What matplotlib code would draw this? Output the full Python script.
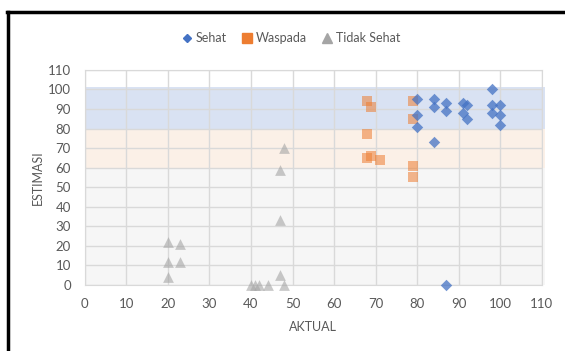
import matplotlib.pyplot as plt
from matplotlib.lines import Line2D

plt.rcParams['font.family'] = ['Lato', 'DejaVu Sans']

# Sehat (blue diamonds)
sehat_x = [80, 80, 80, 84, 84, 84, 87, 87, 91, 92, 91, 92, 98, 98, 98, 100, 100, 100, 87]
sehat_y = [95, 87, 81, 95, 91, 73, 93, 89, 93, 92, 88, 85, 100, 92, 88, 92, 87, 82, 0]

# Waspada (orange squares)
waspada_x = [68, 69, 68, 68, 69, 71, 79, 79, 79, 79]
waspada_y = [94, 91, 77, 65, 66, 64, 94, 85, 61, 55]

# Tidak Sehat (gray triangles)
tidak_x = [20, 23, 20, 23, 20, 48, 47, 47, 47, 40, 41, 42, 44, 48]
tidak_y = [22, 21, 12, 12, 4, 70, 59, 33, 5, 0, 0, 0, 0, 0]

# background zones
zones = [(0, 60, '#F6F6F6'), (60, 80, '#FBF0E7'), (80, 101, '#D9E2F3')]

c_blue = '#4472C4'
c_orange = '#ED7D31'
c_gray = '#A5A5A5'
txt = '#595959'

fig = plt.figure(figsize=(5.65, 3.51), dpi=100)
ax = fig.add_axes([0.150, 0.188, 0.809, 0.613])

for lo, hi, col in zones:
    p = ax.axhspan(lo, hi, xmin=0, xmax=1.008, color=col, zorder=0.2, lw=0)
    p.set_clip_on(False)

ax.scatter(tidak_x, tidak_y, marker='^', s=60, color=c_gray, alpha=0.6, lw=0, zorder=3,
           clip_on=False)
ax.scatter(waspada_x, waspada_y, marker='s', s=60, color=c_orange, alpha=0.55, lw=0, zorder=3,
           clip_on=False)
ax.scatter(sehat_x, sehat_y, marker='D', s=34, color=c_blue, alpha=0.75, lw=0, zorder=4,
           clip_on=False)

ax.set_xlim(0, 110)
ax.set_ylim(0, 110)
ax.set_xticks(range(0, 111, 10))
ax.set_yticks(range(0, 111, 10))
ax.set_axisbelow(True)
ax.grid(True, color='#D9D9D9', lw=1)
for s in ax.spines.values():
    s.set_color('#D9D9D9')
ax.tick_params(length=0, labelsize=9.5, labelcolor=txt)
ax.tick_params(axis='x', pad=9)
ax.tick_params(axis='y', pad=10)
ax.set_xlabel('AKTUAL', fontsize=9, color=txt, labelpad=8)
ax.set_ylabel('ESTIMASI', fontsize=9, color=txt, labelpad=3)

handles = [
    Line2D([], [], marker='D', ls='', color=c_blue, markersize=4.5),
    Line2D([], [], marker='s', ls='', color=c_orange, markersize=7),
    Line2D([], [], marker='^', ls='', color=c_gray, markersize=7),
]
leg = fig.legend(handles, ['Sehat', 'Waspada', 'Tidak Sehat'], loc='center',
                 bbox_to_anchor=(0.515, 0.892), ncol=3, frameon=False,
                 fontsize=9, handlelength=0.8, handletextpad=0.3, columnspacing=1.2)
for t in leg.get_texts():
    t.set_color(txt)

# black frame edges visible at top and left
fig.add_artist(Line2D([0.012, 1.0], [1 - 11.5 / 351] * 2, color='black', lw=2.5,
                      transform=fig.transFigure))
fig.add_artist(Line2D([15 / 1130, 15 / 1130], [0, 1 - 11.5 / 351], color='black', lw=2.5,
                      transform=fig.transFigure))

fig.savefig('out.png', dpi=100)
